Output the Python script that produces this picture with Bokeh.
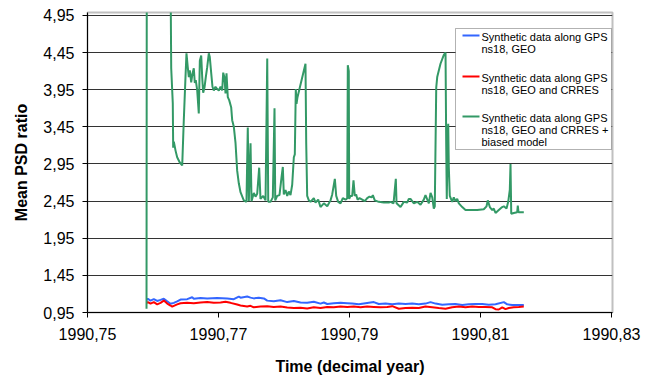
from bokeh.plotting import figure
from bokeh.models import (FixedTicker, CustomJSTickFormatter, Range1d,
                          BoxAnnotation, Label)
from bokeh.embed import file_html
from bokeh.resources import INLINE

# Mean PSD ratio over time (decimal year)
green_t = [1990.75901, 1990.75905, 1990.76267, 1990.76278, 1990.76302, 1990.76308, 1990.76318,
           1990.76344, 1990.76369, 1990.76409, 1990.76446, 1990.76470, 1990.76496, 1990.76511,
           1990.76531, 1990.76547, 1990.76562, 1990.76583, 1990.76603, 1990.76623, 1990.76638,
           1990.76653, 1990.76675, 1990.76699, 1990.76715, 1990.76736, 1990.76751, 1990.76766,
           1990.76786, 1990.76806, 1990.76827, 1990.76852, 1990.76867, 1990.76889, 1990.76908,
           1990.76928, 1990.76954, 1990.76980, 1990.77005, 1990.77031, 1990.77056, 1990.77072,
           1990.77092, 1990.77107, 1990.77122, 1990.77142, 1990.77163, 1990.77194, 1990.77209,
           1990.77234, 1990.77260, 1990.77285, 1990.77310, 1990.77336, 1990.77386, 1990.77427,
           1990.77447, 1990.77463, 1990.77489, 1990.77504, 1990.77539, 1990.77565, 1990.77591,
           1990.77621, 1990.77641, 1990.77682, 1990.77718, 1990.77744, 1990.77759, 1990.77794,
           1990.77829, 1990.77855, 1990.77866, 1990.77896, 1990.77931, 1990.77962, 1990.77982,
           1990.77997, 1990.78023, 1990.78049, 1990.78073, 1990.78099, 1990.78125, 1990.78150,
           1990.78165, 1990.78180, 1990.78191, 1990.78206, 1990.78328, 1990.78339, 1990.78354,
           1990.78379, 1990.78405, 1990.78455, 1990.78481, 1990.78522, 1990.78557, 1990.78608,
           1990.78660, 1990.78710, 1990.78736, 1990.78776, 1990.78797, 1990.78827, 1990.78863,
           1990.78898, 1990.78939, 1990.78965, 1990.78974, 1990.78989, 1990.78995, 1990.79015,
           1990.79041, 1990.79061, 1990.79081, 1990.79102, 1990.79122, 1990.79153, 1990.79194,
           1990.79234, 1990.79270, 1990.79305, 1990.79336, 1990.79356, 1990.79386, 1990.79447,
           1990.79524, 1990.79600, 1990.79626, 1990.79672, 1990.79707, 1990.79718, 1990.79779,
           1990.79829, 1990.79881, 1990.79905, 1990.79931, 1990.79982, 1990.80034, 1990.80084,
           1990.80134, 1990.80160, 1990.80211, 1990.80237, 1990.80263, 1990.80287, 1990.80302,
           1990.80324, 1990.80339, 1990.80389, 1990.80440, 1990.80466, 1990.80476, 1990.80485,
           1990.80496, 1990.80507, 1990.80516, 1990.80531, 1990.80568, 1990.80592, 1990.80618,
           1990.80644, 1990.80669, 1990.80721, 1990.80771, 1990.80847, 1990.80950, 1990.81050,
           1990.81092, 1990.81111, 1990.81142, 1990.81179, 1990.81203, 1990.81229, 1990.81279,
           1990.81331, 1990.81356, 1990.81397, 1990.81423, 1990.81447, 1990.81458, 1990.81469,
           1990.81508, 1990.81560, 1990.81569, 1990.81580, 1990.81661]
green_v = [1.00, 5.60, 5.60, 4.24, 3.77, 3.17, 3.25,
           3.13, 3.04, 2.97, 2.93, 3.54, 4.12, 4.44,
           4.25, 4.12, 4.21, 4.05, 4.17, 4.24, 4.04,
           4.08, 3.94, 3.63, 4.34, 4.41, 4.12, 3.91,
           3.98, 4.12, 4.25, 4.44, 4.39, 4.17, 3.99,
           3.94, 3.99, 3.96, 3.94, 3.99, 3.94, 4.18,
           4.11, 3.90, 4.17, 3.85, 3.81, 3.71, 3.54,
           3.45, 3.23, 2.86, 2.69, 2.57, 2.46, 2.44,
           3.44, 2.45, 3.23, 2.45, 2.56, 2.51, 2.55,
           2.90, 2.48, 2.52, 2.46, 4.37, 2.44, 2.44,
           2.50, 3.70, 2.46, 2.52, 2.53, 2.77, 2.91,
           2.54, 2.60, 2.52, 2.58, 2.53, 2.67, 3.04,
           3.08, 3.96, 3.76, 3.85, 4.30, 3.23, 2.52,
           2.46, 2.44, 2.49, 2.43, 2.47, 2.37, 2.42,
           2.38, 2.46, 2.54, 2.75, 2.52, 2.44, 2.42,
           2.49, 2.47, 2.49, 4.28, 4.20, 2.48, 2.52,
           2.52, 2.73, 2.52, 2.54, 2.47, 2.49, 2.47,
           2.45, 2.49, 2.51, 2.50, 2.53, 2.46, 2.44,
           2.43, 2.43, 2.44, 2.42, 2.75, 2.42, 2.37,
           2.44, 2.43, 2.48, 2.48, 2.42, 2.44, 2.40,
           2.47, 2.53, 2.42, 2.56, 2.50, 2.35, 2.38,
           3.98, 4.12, 4.30, 4.42, 4.45, 3.23, 2.48,
           3.13, 3.49, 2.91, 2.52, 2.44, 2.50, 2.45,
           2.48, 2.42, 2.37, 2.33, 2.33, 2.33, 2.34,
           2.38, 2.46, 2.37, 2.33, 2.35, 2.29, 2.33,
           2.37, 2.38, 2.35, 2.44, 2.60, 2.95, 2.28,
           2.29, 2.30, 2.39, 2.30, 2.30]

blue_t = [1990.75901, 1990.75921, 1990.75962, 1990.76012, 1990.76064, 1990.76115, 1990.76165,
          1990.76217, 1990.76267, 1990.76318, 1990.76369, 1990.76420, 1990.76522, 1990.76598,
          1990.76623, 1990.76725, 1990.76827, 1990.76980, 1990.77133, 1990.77234, 1990.77310,
          1990.77336, 1990.77438, 1990.77489, 1990.77539, 1990.77615, 1990.77692, 1990.77744,
          1990.77844, 1990.77947, 1990.78049, 1990.78150, 1990.78252, 1990.78354, 1990.78455,
          1990.78557, 1990.78608, 1990.78660, 1990.78760, 1990.78863, 1990.78965, 1990.79041,
          1990.79142, 1990.79244, 1990.79371, 1990.79447, 1990.79550, 1990.79652, 1990.79753,
          1990.79855, 1990.79957, 1990.80058, 1990.80160, 1990.80237, 1990.80313, 1990.80415,
          1990.80516, 1990.80618, 1990.80721, 1990.80821, 1990.80924, 1990.81026, 1990.81127,
          1990.81229, 1990.81356, 1990.81408, 1990.81484, 1990.81585, 1990.81661]
blue_v = [1.120, 1.135, 1.110, 1.130, 1.105, 1.120, 1.135,
          1.100, 1.067, 1.080, 1.100, 1.125, 1.130, 1.156,
          1.135, 1.145, 1.140, 1.145, 1.140, 1.130, 1.165,
          1.150, 1.165, 1.150, 1.140, 1.150, 1.140, 1.110,
          1.100, 1.115, 1.090, 1.105, 1.085, 1.080, 1.095,
          1.070, 1.085, 1.065, 1.075, 1.080, 1.075, 1.070,
          1.060, 1.075, 1.090, 1.065, 1.070, 1.060, 1.070,
          1.065, 1.070, 1.060, 1.070, 1.090, 1.070, 1.055,
          1.060, 1.065, 1.050, 1.060, 1.065, 1.065, 1.055,
          1.060, 1.090, 1.060, 1.050, 1.050, 1.050]

red_t = [1990.75901, 1990.75921, 1990.75962, 1990.76012, 1990.76064, 1990.76115, 1990.76165,
         1990.76217, 1990.76267, 1990.76293, 1990.76318, 1990.76369, 1990.76420, 1990.76522,
         1990.76623, 1990.76725, 1990.76827, 1990.76928, 1990.77031, 1990.77107, 1990.77183,
         1990.77285, 1990.77336, 1990.77438, 1990.77489, 1990.77539, 1990.77641, 1990.77744,
         1990.77844, 1990.77947, 1990.78049, 1990.78150, 1990.78252, 1990.78354, 1990.78455,
         1990.78557, 1990.78660, 1990.78760, 1990.78863, 1990.78965, 1990.79066, 1990.79168,
         1990.79270, 1990.79371, 1990.79473, 1990.79576, 1990.79652, 1990.79753, 1990.79855,
         1990.79957, 1990.80058, 1990.80160, 1990.80263, 1990.80363, 1990.80466, 1990.80568,
         1990.80669, 1990.80771, 1990.80873, 1990.80974, 1990.81076, 1990.81179, 1990.81229,
         1990.81279, 1990.81331, 1990.81382, 1990.81432, 1990.81508, 1990.81585, 1990.81661]
red_v = [1.080, 1.090, 1.070, 1.090, 1.060, 1.080, 1.110,
         1.070, 1.044, 1.030, 1.040, 1.060, 1.075, 1.080,
         1.075, 1.085, 1.090, 1.080, 1.085, 1.095, 1.080,
         1.057, 1.045, 1.030, 1.040, 1.020, 1.030, 1.035,
         1.025, 1.030, 1.017, 1.010, 1.015, 1.004, 1.020,
         1.010, 1.025, 1.020, 1.030, 1.025, 1.030, 1.020,
         1.030, 1.025, 1.020, 1.025, 1.035, 1.000, 1.010,
         1.015, 1.010, 1.030, 1.020, 1.010, 1.000, 1.020,
         1.030, 1.020, 1.030, 1.025, 1.025, 1.020, 0.995,
         0.990, 1.020, 0.995, 1.010, 1.020, 1.025, 1.030]

x_ticks = [1990.75, 1990.77, 1990.79, 1990.81, 1990.83]
y_ticks = [0.95, 1.45, 1.95, 2.45, 2.95, 3.45, 3.95, 4.45, 4.95]

series_labels = [
    ["Synthetic data along GPS", "ns18, GEO"],
    ["Synthetic data along GPS", "ns18, GEO and CRRES"],
    ["Synthetic data along GPS", "ns18, GEO and CRRES +", "biased model"],
]
series_colors = ["#3366FF", "#FF0000", "#339966"]

W, H = 657, 378
LEFT, RIGHT, TOP, BOTTOM = 87, 45, 12, 66
X0, X1 = 1990.75, 1990.83015
Y0, Y1 = 0.95, 4.99
FRAME_W = W - LEFT - RIGHT
FRAME_H = H - TOP - BOTTOM

p = figure(width=W, height=H, output_backend="svg", toolbar_location=None,
           x_range=Range1d(X0, X1), y_range=Range1d(Y0, Y1),
           min_border_left=LEFT, min_border_right=RIGHT,
           min_border_top=TOP, min_border_bottom=BOTTOM)
p.background_fill_color = "white"
p.border_fill_color = "white"
p.outline_line_color = "#C0C0C0"
p.outline_line_width = 2

font = "Liberation Sans"
fmt = CustomJSTickFormatter(code="return tick.toFixed(2).replace('.', ',');")

p.xaxis.ticker = FixedTicker(ticks=x_ticks)
p.yaxis.ticker = FixedTicker(ticks=y_ticks)
for ax in (p.xaxis[0], p.yaxis[0]):
    ax.formatter = fmt
    ax.axis_line_color = "black"
    ax.axis_line_width = 1
    ax.major_tick_line_color = "black"
    ax.major_tick_out = 5
    ax.major_tick_in = 0
    ax.minor_tick_line_color = None
    ax.major_label_text_font = font
    ax.major_label_text_font_size = "16px"
    ax.major_label_text_color = "black"
    ax.axis_label_text_font = font
    ax.axis_label_text_font_size = "16px"
    ax.axis_label_text_font_style = "bold"
    ax.axis_label_text_color = "black"

p.xaxis.axis_label = "Time (decimal year)"
p.yaxis.axis_label = "Mean PSD ratio"
p.xaxis.major_label_standoff = 10
p.xaxis.axis_label_standoff = 15
p.yaxis.major_label_standoff = 8
p.yaxis.axis_label_standoff = 10

p.xgrid.grid_line_color = None
p.ygrid.grid_line_color = "#333333"
p.ygrid.grid_line_width = 1

p.line(blue_t, blue_v, line_color=series_colors[0], line_width=2)
p.line(red_t, red_v, line_color=series_colors[1], line_width=2)
p.line(green_t, green_v, line_color=series_colors[2], line_width=2)


# legend box placed in pixel terms inside the frame
def sx(px):
    return X0 + (px - LEFT) * (X1 - X0) / FRAME_W


def sy(py):
    return Y1 - (py - TOP) * (Y1 - Y0) / FRAME_H


p.add_layout(BoxAnnotation(left=sx(455), right=sx(611), top=sy(28), bottom=sy(149),
                           fill_color="white", fill_alpha=1.0,
                           line_color="black", line_width=1, level="annotation"))

entry_tops = [36, 77, 117]
for lines, color, ytop in zip(series_labels, series_colors, entry_tops):
    p.add_layout(BoxAnnotation(left=sx(462), right=sx(479), top=sy(ytop - 2), bottom=sy(ytop),
                               fill_color=color, fill_alpha=1.0, line_color=None,
                               level="annotation"))
    for i, txt in enumerate(lines):
        p.add_layout(Label(x=sx(481), y=sy(ytop + 12 * i), text=txt,
                           text_font=font, text_font_size="11px", text_color="black",
                           text_baseline="middle", text_align="left"))

open("out.html", "w").write(file_html(p, INLINE))
